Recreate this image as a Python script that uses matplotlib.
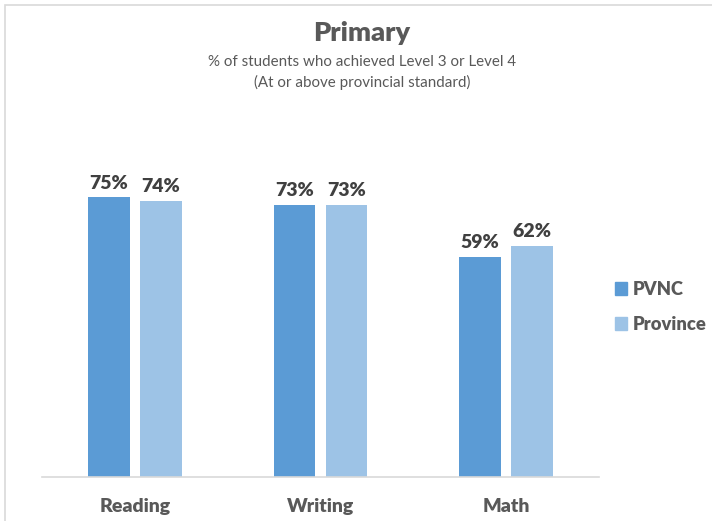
import matplotlib
matplotlib.use("Agg")
import matplotlib.pyplot as plt
from matplotlib.patches import Rectangle, Patch
import numpy as np

categories = ["Reading", "Writing", "Math"]
pvnc = [75, 73, 59]
province = [74, 73, 62]
series_names = ["PVNC", "Province"]

plt.rcParams['font.family'] = ['Lato', 'DejaVu Sans']

W, H = 712, 521
fig = plt.figure(figsize=(W / 100, H / 100), dpi=100)

# outer frame (only left and top visible)
fig.patches.append(Rectangle((5 / W, -0.1), 1.2, 1 - 5 / H + 0.1, transform=fig.transFigure,
                             fill=False, edgecolor="#D9D9D9", linewidth=1.2))

ax = fig.add_axes([42 / W, 1 - 477 / H, (599 - 42) / W, (477 - 104) / H])
x = np.arange(len(categories))
bw = 0.226
off = 0.14
c1, c2 = "#5B9BD5", "#9DC3E6"
b1 = ax.bar(x - off, pvnc, bw, color=c1)
b2 = ax.bar(x + off, province, bw, color=c2)

for bars, vals in ((b1, pvnc), (b2, province)):
    for b, v in zip(bars, vals):
        ax.annotate(f"{v}%", (b.get_x() + b.get_width() / 2, v), xytext=(0, 4),
                    textcoords="offset points", ha="center", va="bottom",
                    fontsize=14, fontweight="heavy", color="#404040")

ax.set_xlim(-0.5, 2.5)
ax.set_ylim(0, 100)
for s in ["top", "right", "left"]:
    ax.spines[s].set_visible(False)
ax.spines["bottom"].set_color("#D9D9D9")
ax.spines["bottom"].set_linewidth(1.2)
ax.set_yticks([])
ax.set_xticks(x)
ax.set_xticklabels(categories, fontsize=14, fontweight="heavy", color="#595959")
ax.tick_params(axis="x", length=0, pad=15)

fig.text(362 / W, 1 - 33 / H, "Primary", ha="center", va="center", fontsize=19.5,
         fontweight="heavy", color="#595959")
fig.text(362 / W, 1 - 62 / H, "% of students who achieved Level 3 or Level 4", ha="center",
         va="center", fontsize=10.9, color="#595959")
fig.text(362 / W, 1 - 82 / H, "(At or above provincial standard)", ha="center",
         va="center", fontsize=10.9, color="#595959")

handles = [Patch(color=c1), Patch(color=c2)]
leg = fig.legend(handles, series_names, loc="center left", bbox_to_anchor=(598 / W, 1 - 307 / H),
                 frameon=False, handlelength=0.7, handleheight=0.7, handletextpad=0.3,
                 labelspacing=0.95, prop={"size": 13.2, "weight": "heavy"})
for t in leg.get_texts():
    t.set_color("#595959")

fig.savefig("out.png", dpi=100)
